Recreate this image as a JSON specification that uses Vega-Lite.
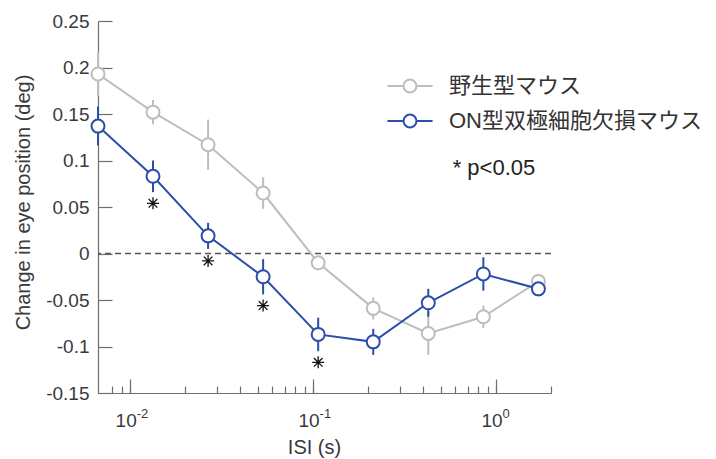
{
  "$schema": "https://vega.github.io/schema/vega-lite/v6.json",
  "width": 453,
  "height": 372,
  "autosize": {"type": "none"},
  "padding": {"left": 98, "top": 21, "right": 165, "bottom": 66},
  "background": "white",
  "config": {
    "view": {"stroke": null},
    "font": "Liberation Sans, Noto Sans CJK JP"
  },
  "resolve": {"axis": {"x": "independent"}},
  "datasets": {
    "series": [
      {"group": "野生型マウス", "isi": 0.00667, "dy": 0.193, "lo": 0.169, "hi": 0.217},
      {"group": "野生型マウス", "isi": 0.01333, "dy": 0.152, "lo": 0.139, "hi": 0.165},
      {"group": "野生型マウス", "isi": 0.02667, "dy": 0.117, "lo": 0.090, "hi": 0.144},
      {"group": "野生型マウス", "isi": 0.05333, "dy": 0.065, "lo": 0.048, "hi": 0.082},
      {"group": "野生型マウス", "isi": 0.10667, "dy": -0.010, "lo": -0.015, "hi": -0.005},
      {"group": "野生型マウス", "isi": 0.21333, "dy": -0.059, "lo": -0.071, "hi": -0.047},
      {"group": "野生型マウス", "isi": 0.42667, "dy": -0.086, "lo": -0.109, "hi": -0.063},
      {"group": "野生型マウス", "isi": 0.85333, "dy": -0.068, "lo": -0.080, "hi": -0.056},
      {"group": "野生型マウス", "isi": 1.70667, "dy": -0.030, "lo": -0.037, "hi": -0.023},
      {"group": "ON型双極細胞欠損マウス", "isi": 0.00667, "dy": 0.137, "lo": 0.116, "hi": 0.158},
      {"group": "ON型双極細胞欠損マウス", "isi": 0.01333, "dy": 0.083, "lo": 0.066, "hi": 0.100},
      {"group": "ON型双極細胞欠損マウス", "isi": 0.02667, "dy": 0.019, "lo": 0.005, "hi": 0.033},
      {"group": "ON型双極細胞欠損マウス", "isi": 0.05333, "dy": -0.025, "lo": -0.044, "hi": -0.006},
      {"group": "ON型双極細胞欠損マウス", "isi": 0.10667, "dy": -0.087, "lo": -0.105, "hi": -0.069},
      {"group": "ON型双極細胞欠損マウス", "isi": 0.21333, "dy": -0.095, "lo": -0.109, "hi": -0.081},
      {"group": "ON型双極細胞欠損マウス", "isi": 0.42667, "dy": -0.053, "lo": -0.068, "hi": -0.038},
      {"group": "ON型双極細胞欠損マウス", "isi": 0.85333, "dy": -0.022, "lo": -0.040, "hi": -0.004},
      {"group": "ON型双極細胞欠損マウス", "isi": 1.70667, "dy": -0.038, "lo": -0.046, "hi": -0.030}
    ],
    "sig": [
      {"isi": 0.01333, "dy": 0.054},
      {"isi": 0.02667, "dy": -0.008},
      {"isi": 0.05333, "dy": -0.056},
      {"isi": 0.10667, "dy": -0.117}
    ],
    "note": [
      {"label": "* p<0.05", "isi": 0.58, "dy": 0.092}
    ]
  },
  "layer": [
    {
      "data": {"values": [{}]},
      "mark": {"type": "rule", "stroke": "#555555", "strokeWidth": 1.5, "strokeDash": [6, 4]},
      "encoding": {"y": {"datum": 0, "type": "quantitative"}}
    },
    {
      "data": {"name": "series"},
      "mark": {"type": "rule", "strokeWidth": 2},
      "encoding": {
        "x": {
          "field": "isi", "type": "quantitative",
          "scale": {"type": "log", "domain": [0.00667, 2], "nice": false},
          "axis": {
            "orient": "bottom",
            "title": "ISI (s)",
            "values": [0.01, 0.1, 1],
            "labelExpr": "'10'",
            "tickSize": -14,
            "labelPadding": 32,
            "labelOffset": -4.5,
            "labelAlign": "center",
            "labelFontSize": 19,
            "labelColor": "#3a3a3a",
            "labelFlush": false,
            "labelOverlap": false,
            "domainColor": "#6e6e6e",
            "tickColor": "#6e6e6e",
            "domainWidth": 1.2,
            "tickWidth": 1.2,
            "grid": false,
            "titleFontSize": 20,
            "titleFontWeight": "normal",
            "titleColor": "#3a3a3a",
            "titleX": 216,
            "titleY": 44,
            "titleBaseline": "top"
          }
        },
        "y": {
          "field": "lo", "type": "quantitative",
          "scale": {"domain": [-0.15, 0.25], "nice": false, "zero": false},
          "axis": {
            "title": "Change in eye position (deg)",
            "values": [-0.15, -0.1, -0.05, 0, 0.05, 0.1, 0.15, 0.2, 0.25],
            "labelExpr": "replace(format(datum.value, '.2~f'), '−', '-')",
            "ticks": true,
            "tickSize": -14,
            "labelPadding": 23,
            "labelFontSize": 19,
            "labelColor": "#3a3a3a",
            "labelFlush": false,
            "domainColor": "#6e6e6e",
            "tickColor": "#6e6e6e",
            "domainWidth": 1.2,
            "tickWidth": 1.2,
            "grid": false,
            "titleFontSize": 20,
            "titleFontWeight": "normal",
            "titleColor": "#3a3a3a",
            "titleX": -65,
            "titleY": 181,
            "titleAngle": -90,
            "titleBaseline": "bottom"
          }
        },
        "y2": {"field": "hi"},
        "stroke": {
          "field": "group", "type": "nominal",
          "scale": {"domain": ["野生型マウス", "ON型双極細胞欠損マウス"], "range": ["#bdbdbd", "#2a4fa8"]},
          "legend": {
            "title": null,
            "orient": "none",
            "legendX": 293.5,
            "legendY": 46.5,
            "padding": 0,
            "symbolType": "M-1.29,0L-0.37,0M0.37,0L1.29,0M-0.37,0A0.37,0.37,0,1,1,0.37,0A0.37,0.37,0,1,1,-0.37,0Z",
            "symbolSize": 1225,
            "symbolStrokeWidth": 2,
            "symbolFillColor": "white",
            "labelOffset": 20.5,
            "labelFontSize": 22,
            "labelColor": "#333333",
            "labelFont": "Liberation Sans, Noto Sans CJK JP",
            "rowPadding": 5,
            "labelLimit": 400,
            "encode": {"symbols": {"update": {"fill": {"value": "white"}, "strokeWidth": {"value": 2}}}}
          }
        }
      }
    },
    {
      "data": {"name": "series"},
      "mark": {"type": "line", "strokeWidth": 2},
      "encoding": {
        "x": {
          "field": "isi", "type": "quantitative",
          "axis": {
            "orient": "bottom",
            "title": null,
            "values": [0.008, 0.009, 0.01, 0.02, 0.03, 0.04, 0.05, 0.06, 0.07, 0.08, 0.09, 0.1, 0.2, 0.3, 0.4, 0.5, 0.6, 0.7, 0.8, 0.9, 1, 2],
            "labelExpr": "datum.value == 0.01 ? '-2' : datum.value == 0.1 ? '-1' : datum.value == 1 ? '0' : ''",
            "tickSize": -7,
            "labelPadding": 21,
            "labelOffset": 6,
            "labelAlign": "left",
            "labelFontSize": 13,
            "labelColor": "#3a3a3a",
            "labelFlush": false,
            "labelOverlap": false,
            "domainColor": "#6e6e6e",
            "tickColor": "#6e6e6e",
            "domainWidth": 1.2,
            "tickWidth": 1.2,
            "grid": false
          }
        },
        "y": {"field": "dy", "type": "quantitative"},
        "stroke": {"field": "group", "type": "nominal"}
      }
    },
    {
      "data": {"name": "series"},
      "mark": {"type": "point", "shape": "circle", "size": 169, "strokeWidth": 2, "fill": "white", "filled": true, "opacity": 1},
      "encoding": {
        "x": {"field": "isi", "type": "quantitative", "axis": null},
        "y": {"field": "dy", "type": "quantitative"},
        "stroke": {"field": "group", "type": "nominal"}
      }
    },
    {
      "data": {"name": "sig"},
      "mark": {"type": "point", "shape": "M-1,0L1,0M0,-1L0,1M-0.72,-0.72L0.72,0.72M-0.72,0.72L0.72,-0.72", "size": 144, "stroke": "#111111", "strokeWidth": 1.3, "filled": false, "opacity": 1},
      "encoding": {
        "x": {"field": "isi", "type": "quantitative", "axis": null},
        "y": {"field": "dy", "type": "quantitative"}
      }
    },
    {
      "data": {"name": "note"},
      "mark": {"type": "text", "align": "left", "baseline": "middle", "fontSize": 22, "color": "#222222"},
      "encoding": {
        "x": {"field": "isi", "type": "quantitative", "axis": null},
        "y": {"field": "dy", "type": "quantitative"},
        "text": {"field": "label"}
      }
    }
  ]
}
